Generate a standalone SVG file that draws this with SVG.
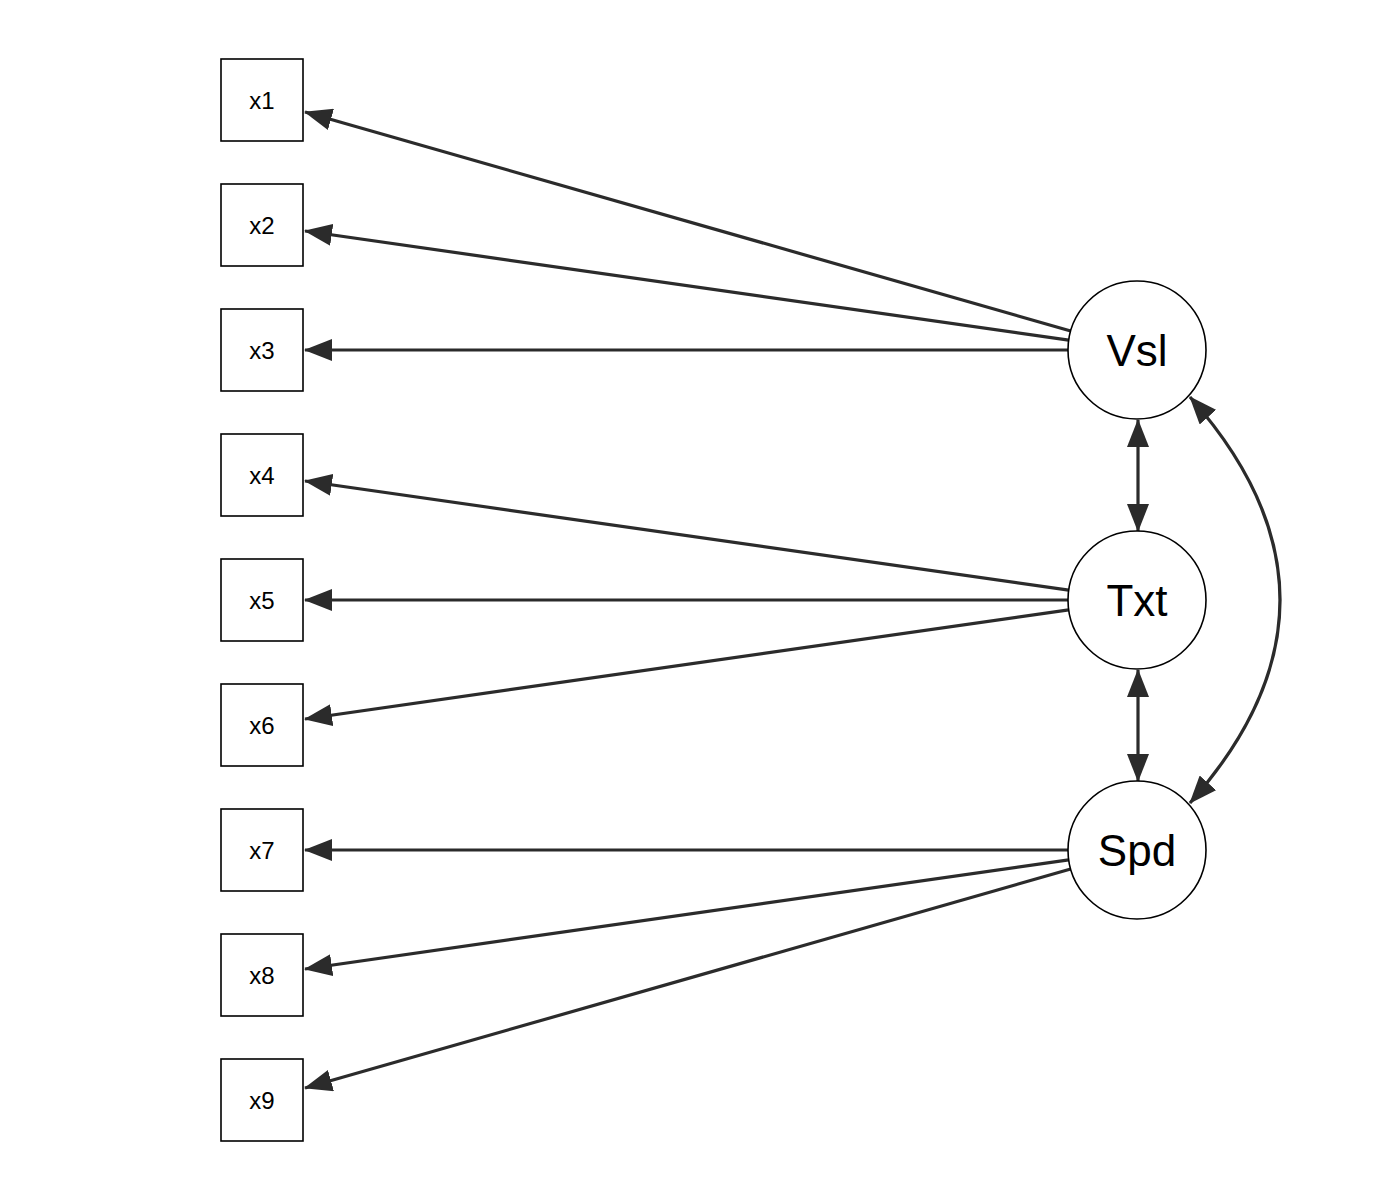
<svg xmlns="http://www.w3.org/2000/svg" width="1400" height="1200" viewBox="0 0 1400 1200">
<style>
.box{fill:#fff;stroke:#000;stroke-width:1.6}
.lat{fill:#fff;stroke:#000;stroke-width:1.6}
.bl{font-family:"Liberation Sans",Arial,sans-serif;font-size:24px;fill:#000;text-anchor:middle}
.cl{font-family:"Liberation Sans",Arial,sans-serif;font-size:44px;fill:#000;text-anchor:middle}
.e{fill:none;stroke:#2b2b2b;stroke-width:3.2}
</style>
<defs>
<marker id="ah" markerUnits="userSpaceOnUse" viewBox="0 0 28 22" refX="27" refY="11" markerWidth="28" markerHeight="22" orient="auto-start-reverse">
<path d="M0,0 L28,11 L0,22 z" fill="#2b2b2b"/>
</marker>
</defs>
<rect width="1400" height="1200" fill="#fff"/>
<g id="connectors">
<line class="e" x1="1070.7" y1="331" x2="305" y2="112" marker-end="url(#ah)"/>
<line class="e" x1="1068.7" y1="340.2" x2="305" y2="231" marker-end="url(#ah)"/>
<line class="e" x1="1068" y1="350" x2="305" y2="350" marker-end="url(#ah)"/>
<line class="e" x1="1068.7" y1="590.2" x2="305" y2="481" marker-end="url(#ah)"/>
<line class="e" x1="1068" y1="600" x2="305" y2="600" marker-end="url(#ah)"/>
<line class="e" x1="1068.7" y1="609.8" x2="305" y2="719" marker-end="url(#ah)"/>
<line class="e" x1="1068" y1="850" x2="305" y2="850" marker-end="url(#ah)"/>
<line class="e" x1="1068.7" y1="859.8" x2="305" y2="969" marker-end="url(#ah)"/>
<line class="e" x1="1070.7" y1="869" x2="305" y2="1088" marker-end="url(#ah)"/>
<path class="e" d="M1138,420 L1138,531" marker-start="url(#ah)" marker-end="url(#ah)"/>
<path class="e" d="M1138,670 L1138,781" marker-start="url(#ah)" marker-end="url(#ah)"/>
<path class="e" d="M1190,397 Q1370,600 1190,803" marker-start="url(#ah)" marker-end="url(#ah)"/>
</g>
<g id="x1"><rect class="box" x="221" y="59" width="82" height="82"/><text class="bl" x="262" y="109">x1</text></g>
<g id="x2"><rect class="box" x="221" y="184" width="82" height="82"/><text class="bl" x="262" y="234">x2</text></g>
<g id="x3"><rect class="box" x="221" y="309" width="82" height="82"/><text class="bl" x="262" y="359">x3</text></g>
<g id="x4"><rect class="box" x="221" y="434" width="82" height="82"/><text class="bl" x="262" y="484">x4</text></g>
<g id="x5"><rect class="box" x="221" y="559" width="82" height="82"/><text class="bl" x="262" y="609">x5</text></g>
<g id="x6"><rect class="box" x="221" y="684" width="82" height="82"/><text class="bl" x="262" y="734">x6</text></g>
<g id="x7"><rect class="box" x="221" y="809" width="82" height="82"/><text class="bl" x="262" y="859">x7</text></g>
<g id="x8"><rect class="box" x="221" y="934" width="82" height="82"/><text class="bl" x="262" y="984">x8</text></g>
<g id="x9"><rect class="box" x="221" y="1059" width="82" height="82"/><text class="bl" x="262" y="1109">x9</text></g>
<g id="Vsl"><circle class="lat" cx="1137" cy="350" r="69"/><text class="cl" x="1137" y="366">Vsl</text></g>
<g id="Txt"><circle class="lat" cx="1137" cy="600" r="69"/><text class="cl" x="1137" y="616">Txt</text></g>
<g id="Spd"><circle class="lat" cx="1137" cy="850" r="69"/><text class="cl" x="1137" y="866">Spd</text></g>
</svg>
